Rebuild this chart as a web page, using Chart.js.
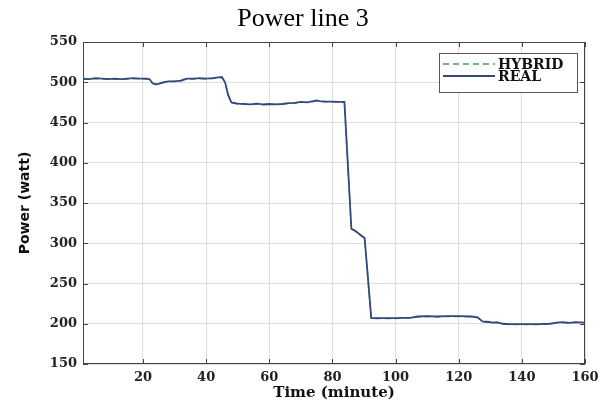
<!DOCTYPE html>
<html>
<head>
<meta charset="utf-8">
<script src="https://cdn.jsdelivr.net/npm/chart.js@4"></script>
<style>
  html, body { margin: 0; padding: 0; background: #fff; }
  #wrap { width: 613px; height: 406px; }
</style>
</head>
<body>
<div id="wrap"><canvas id="chart" width="613" height="406"></canvas></div>
<script>
// time in minutes
const times = [1, 3, 5, 7, 9, 11, 13, 15, 17, 19, 21, 22, 23, 24, 25, 26, 28, 30, 32, 33, 34, 36, 38, 40, 42, 44, 45, 46, 47, 48,
  50, 52, 54, 56, 58, 60, 62, 64, 66, 68, 70, 72, 74, 75, 76, 78, 80, 82, 83.8, 86, 87, 88, 89, 90.2, 92.3,
  95, 100, 105, 107, 110, 113, 116, 120, 124, 126, 127.5, 129, 131, 132, 134, 136, 140, 145, 149, 151, 153, 155, 157, 160];

const realPower = [504.5, 504, 505, 504.5, 504, 504.5, 504, 504.5, 505, 504.5, 504.5, 504, 499, 497.5, 498, 499.5, 501, 501, 502, 503.5, 504.5, 504.5, 505, 504.5, 505, 506, 506.5, 500, 484, 475,
  473.5, 473, 472.5, 473.5, 472.5, 473, 472.5, 473, 474, 474.5, 475.5, 475, 476.5, 477.5, 476.5, 476, 476, 475.5, 475.5, 318, 316, 313, 310, 306.5, 207,
  207, 207, 207.5, 209, 209.5, 209, 209.5, 209.5, 209, 208, 203, 202.5, 201.5, 202, 200, 199.5, 199.5, 199.5, 200, 201.5, 202, 201, 202, 201.5];

const hybridPower = [503.5, 503.5, 504.5, 504, 504, 504, 503.5, 504, 504.5, 504, 504, 503.5, 498.5, 497, 498, 499, 500.5, 501, 501.5, 503, 504, 504, 504.5, 504, 504.5, 505.5, 506, 499.5, 483.5, 474.5,
  473, 472.5, 472.5, 473, 472, 472.5, 472.5, 472.5, 473.5, 474, 475, 475, 476, 477, 476, 475.5, 475.5, 475, 475, 317.5, 315.5, 312.5, 309.5, 306, 206.5,
  206.5, 206.5, 207, 208.5, 209, 208.5, 209, 209, 208.5, 207.5, 202.5, 202, 201, 201.5, 199.5, 199, 199, 199, 199.5, 201, 201.5, 200.5, 201.5, 201];

const xTicks = [20, 40, 60, 80, 100, 120, 140, 160];
const yTicks = [150, 200, 250, 300, 350, 400, 450, 500, 550];

const titleText = "Power line 3";
const tickFont = { family: "DejaVu Serif", size: 13, weight: "bold" };

// title sits a bit left of the plot centre in the original, so draw it by hand
const titlePlugin = {
  id: "plotTitle",
  afterDraw(chart) {
    const ctx = chart.ctx;
    ctx.save();
    ctx.font = "26px 'Liberation Serif'";
    ctx.fillStyle = "#000";
    ctx.textAlign = "center";
    ctx.textBaseline = "alphabetic";
    ctx.fillText(titleText, 303, 26);
    ctx.restore();
  }
};

// frame + inward tick marks, like the original plot
const framePlugin = {
  id: "frame",
  afterDraw(chart) {
    const { ctx, chartArea: a, scales } = chart;
    ctx.save();
    ctx.strokeStyle = "#444";
    ctx.lineWidth = 1;
    ctx.strokeRect(a.left + 0.5, a.top + 0.5, a.right - a.left - 1, a.bottom - a.top - 1);
    ctx.beginPath();
    xTicks.forEach(v => {
      const px = Math.round(scales.x.getPixelForValue(v)) + 0.5;
      ctx.moveTo(px, a.bottom); ctx.lineTo(px, a.bottom - 5);
      ctx.moveTo(px, a.top); ctx.lineTo(px, a.top + 5);
    });
    yTicks.forEach(v => {
      const py = Math.round(scales.y.getPixelForValue(v)) + 0.5;
      ctx.moveTo(a.left, py); ctx.lineTo(a.left + 5, py);
      ctx.moveTo(a.right, py); ctx.lineTo(a.right - 5, py);
    });
    ctx.stroke();
    ctx.restore();
  }
};

// legend box drawn inside the top right of the plot
const legendPlugin = {
  id: "boxLegend",
  afterDraw(chart) {
    const ctx = chart.ctx;
    const x0 = 439, y0 = 53, w = 138, h = 39;
    ctx.save();
    ctx.fillStyle = "#fff";
    ctx.fillRect(x0, y0, w, h);
    ctx.strokeStyle = "#555";
    ctx.lineWidth = 1;
    ctx.strokeRect(x0 + 0.5, y0 + 0.5, w, h);
    ctx.font = "bold 14px 'DejaVu Serif'";
    ctx.textBaseline = "middle";
    chart.data.datasets.forEach((ds, i) => {
      const y = y0 + 11 + i * 12;
      ctx.beginPath();
      ctx.strokeStyle = ds.borderColor;
      ctx.lineWidth = ds.borderWidth;
      ctx.setLineDash(ds.borderDash || []);
      ctx.moveTo(x0 + 4, y);
      ctx.lineTo(x0 + 56, y);
      ctx.stroke();
      ctx.setLineDash([]);
      ctx.fillStyle = "#111";
      ctx.fillText(ds.label, x0 + 59, y + 1);
    });
    ctx.restore();
  }
};

new Chart(document.getElementById("chart"), {
  type: "line",
  data: {
    datasets: [
      {
        label: "HYBRID",
        data: times.map((t, i) => ({ x: t, y: hybridPower[i] })),
        borderColor: "#3ea558",
        borderWidth: 1.3,
        borderDash: [6, 4],
        pointRadius: 0,
        tension: 0,
        order: 1
      },
      {
        label: "REAL",
        data: times.map((t, i) => ({ x: t, y: realPower[i] })),
        borderColor: "#34477e",
        borderWidth: 1.8,
        pointRadius: 0,
        tension: 0,
        order: 0
      }
    ]
  },
  options: {
    responsive: false,
    animation: false,
    layout: { padding: { left: 0, right: 28, top: 42, bottom: 0 } },
    plugins: {
      legend: { display: false },
      tooltip: { enabled: false },
      title: { display: false }
    },
    scales: {
      x: {
        type: "linear",
        min: 1,
        max: 160,
        afterBuildTicks: s => { s.ticks = xTicks.map(v => ({ value: v })); },
        afterFit: s => { s.height = 42; },
        grid: { color: "#dedede", drawTicks: false },
        border: { display: false },
        ticks: { color: "#222", font: tickFont, padding: 6, maxRotation: 0 },
        title: {
          display: true,
          text: "Time (minute)",
          color: "#111",
          font: { family: "DejaVu Serif", size: 15, weight: "bold" },
          padding: { top: 0, bottom: 4 }
        }
      },
      y: {
        min: 150,
        max: 550,
        afterBuildTicks: s => { s.ticks = yTicks.map(v => ({ value: v })); },
        afterFit: s => { s.width = 83; },
        grid: { color: "#dedede", drawTicks: false },
        border: { display: false },
        ticks: { color: "#222", font: tickFont, padding: 6 },
        title: {
          display: true,
          text: "Power (watt)",
          color: "#111",
          font: { family: "DejaVu Sans", size: 14, weight: "bold" },
          padding: { top: 17, bottom: 0 }
        }
      }
    }
  },
  plugins: [framePlugin, legendPlugin, titlePlugin]
});
</script>
</body>
</html>
